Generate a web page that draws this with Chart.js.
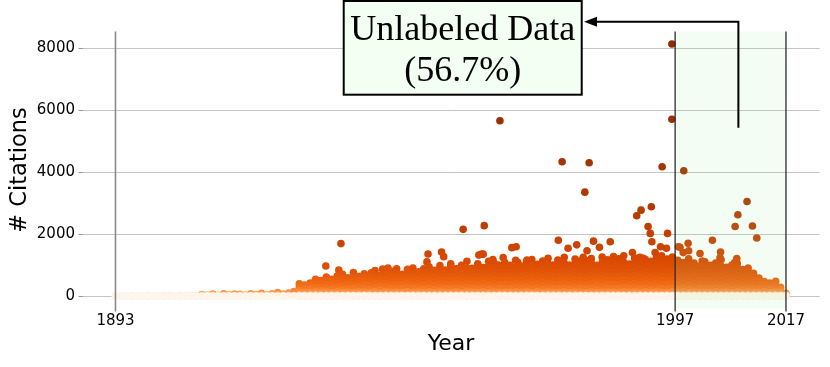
<!DOCTYPE html>
<html>
<head>
<meta charset="utf-8">
<script src="https://cdn.jsdelivr.net/npm/chart.js@4"></script>
<style>
  html, body { margin: 0; padding: 0; background: #fff; }
</style>
</head>
<body>
<canvas id="cites" width="830" height="367"></canvas>
<script>
// each row: [year, citations of the papers of that year ...]
const pre1927 = [
  [1893,0,1],[1894,0,2],[1895,0,1],[1896,0,3],[1897,0,1],[1898,0,2],[1899,0,4],[1900,0,1],
  [1901,0,2],[1902,0,3],[1903,0,5],[1904,0,2],[1905,0,6],[1906,0,3],[1907,0,8],[1908,0,4],
  [1909,0,10,45],[1910,0,5,30],[1911,0,12,60],[1912,0,6,25],[1913,0,15,70],[1914,0,4,40],
  [1915,0,10,65],[1916,0,8,55],[1917,0,14,35],[1918,0,6,70],[1919,0,10,45],[1920,0,18,90],
  [1921,0,8,40],[1922,0,12,75],[1923,0,20,110],[1924,0,9,60],[1925,0,16,95],[1926,0,25,140]
];
const y1927to1949 = [
  [1927,0,2,10,35,90,170,280,390],
  [1928,0,4,15,50,120,230,350],
  [1929,0,3,12,40,100,200,310,420],
  [1930,0,5,20,60,140,260,380,460,540],
  [1931,0,2,8,30,80,170,290,410,500],
  [1932,0,6,18,55,130,250,370,470,610],
  [1933,0,3,14,45,110,220,340,460,540],
  [1934,0,4,20,60,150,280,400,510,640],
  [1935,0,2,10,40,100,200,320,440,560,700],
  [1936,0,5,16,50,120,240,360,480,590],
  [1937,0,3,12,45,110,230,350,470,560,760],
  [1938,0,6,22,65,150,280,400,520,630],
  [1939,0,4,15,50,130,250,370,490,600,720],
  [1940,0,3,12,40,100,210,340,460,580,650],
  [1941,0,5,18,55,140,260,380,500,620,820],
  [1942,0,2,10,35,90,190,310,430,550,680],
  [1943,0,6,20,60,150,280,400,520,640,700],
  [1944,0,4,14,48,120,240,360,480,600,660,800],
  [1945,0,3,16,52,130,250,370,490,610,720,880],
  [1946,0,5,12,42,110,230,350,470,590,700],
  [1947,0,2,18,58,140,270,390,510,630,760,860],
  [1948,0,4,14,46,120,240,360,480,600,720,900],
  [1949,0,6,20,60,150,280,400,520,640,780]
];
const y1950s = [
  [1950,0,3,12,40,110,220,350,480,610,740,880],
  [1951,0,5,18,55,140,260,390,520,650,790,940],
  [1952,0,2,10,38,100,210,340,470,600,730,830],
  [1953,0,6,20,62,150,280,410,540,670,800,980],
  [1954,0,4,15,48,120,240,370,500,630,760,840],
  [1955,0,3,14,45,115,230,360,490,620,750,870,1040],
  [1956,0,5,18,55,140,260,390,520,650,780,880],
  [1957,0,2,12,40,105,220,350,480,610,740,860,990],
  [1958,0,6,20,60,150,280,410,540,670,800,900,1120],
  [1959,0,4,15,50,125,245,375,505,635,765,890]
];
const y1960s = [
  [1960,0,3,12,42,110,225,355,485,615,745,880,1040],
  [1961,0,5,18,56,140,265,395,525,655,785,920],
  [1962,0,2,10,38,100,215,345,475,605,735,860,960,1120],
  [1963,0,6,22,64,155,285,415,545,675,805,930,1060],
  [1964,0,4,14,46,120,240,370,500,630,760,890,980],
  [1965,0,3,16,52,130,250,380,510,640,770,900,1080],
  [1966,0,5,12,42,110,230,360,490,620,750,880,990],
  [1967,0,2,18,58,145,270,400,530,660,790,920,1150],
  [1968,0,4,14,48,120,240,370,500,630,760,890,970],
  [1969,0,6,20,60,150,280,410,540,670,800,930,1100]
];
const y1970s = [
  [1970,0,3,12,40,105,220,350,480,610,740,870,990,1180],
  [1971,0,5,18,55,140,260,390,520,650,780,910,1020],
  [1972,0,2,10,38,100,210,340,470,600,730,860,980,1130],
  [1973,0,6,20,62,150,280,410,540,670,800,930,1040,1220],
  [1974,0,4,15,48,120,240,370,500,630,760,890,1000],
  [1975,0,3,14,45,115,230,360,490,620,750,880,990,1100],
  [1976,0,5,18,55,140,260,390,520,650,780,910,1060,1250],
  [1977,0,2,12,40,105,220,350,480,610,740,870,1000],
  [1978,0,6,20,60,150,280,410,540,670,800,930,1040,1190],
  [1979,0,4,15,50,125,245,375,505,635,765,895,1010,1130]
];
const y1980s = [
  [1980,0,3,12,42,110,225,355,485,615,745,875,1000,1140],
  [1981,0,5,18,56,140,265,395,525,655,785,915,1060,1210],
  [1982,0,2,10,38,100,215,345,475,605,735,865,990],
  [1983,0,6,22,64,155,285,415,545,675,805,935,1080,1260],
  [1984,0,4,14,46,120,240,370,500,630,760,890,1020,1170],
  [1985,0,3,16,52,130,250,380,510,640,770,900,1050],
  [1986,0,5,12,42,110,230,360,490,620,750,880,1010,1200],
  [1987,0,2,18,58,145,270,400,530,660,790,920,1090,1300],
  [1988,0,4,14,48,120,240,370,500,630,760,890,1030],
  [1989,0,6,20,60,150,280,410,540,670,800,930,1070,1230]
];
const y1990to1996 = [
  [1990,0,3,12,40,105,220,350,480,610,740,870,1000,1100,1250],
  [1991,0,5,18,55,140,260,390,520,650,780,910,1050,1180],
  [1992,0,2,10,38,100,210,340,470,600,730,860,990,1120],
  [1993,0,6,20,62,150,280,410,540,670,800,930,1060,1210],
  [1994,0,4,15,48,120,240,370,500,630,760,890,1020,1150,1300],
  [1995,0,3,14,45,115,230,360,490,620,750,880,1010,1190],
  [1996,0,5,18,55,140,260,390,520,650,780,910,1040,1110,1260]
];
const y1997on = [
  [1997,0,3,12,42,110,225,355,485,615,745,875,1000,1150],
  [1998,0,5,18,56,140,265,395,525,655,785,915,1080],
  [1999,0,2,10,38,100,215,345,475,605,735,865,980,1200],
  [2000,0,6,22,64,155,285,415,545,675,805,935,1060],
  [2001,0,4,14,46,120,240,370,500,630,760,890,960],
  [2002,0,3,16,52,130,250,380,510,640,770,900,1100],
  [2003,0,5,12,42,110,230,360,490,620,750,880,990],
  [2004,0,2,18,58,145,270,400,530,660,790,920,1060],
  [2005,0,4,14,48,120,240,370,500,630,760,890,970,1170],
  [2006,0,6,20,60,150,280,410,540,670,800,930],
  [2007,0,3,12,40,105,220,350,480,610,740,870,1000],
  [2008,0,5,18,55,140,260,390,520,650,780,900,1050],
  [2009,0,2,10,38,100,210,340,470,600,730,850],
  [2010,0,6,20,62,150,280,410,540,670,790,900],
  [2011,0,4,15,48,120,240,370,500,620,730],
  [2012,0,3,14,45,115,230,350,470,580],
  [2013,0,5,18,55,140,260,370,470],
  [2014,0,2,12,40,105,210,320,420],
  [2015,0,6,20,60,150,260,350,410],
  [2016,0,4,15,50,120,200,280],
  [2017,0,3,12,40,90]
];
// papers standing out above the main mass: [year, citations]
const standouts = [
  [1930.8,460],[1931.9,968],[1934.3,840],[1934.7,1690],[1940.3,750],[1942.4,870],[1943.4,900],
  [1950.6,1100],[1950.8,1355],[1953.3,1420],[1953.7,1270],[1955.0,970],[1957.3,2150],
  [1960.0,1000],[1960.2,1320],[1960.7,1355],[1961.0,1350],[1961.2,2270],[1962.8,1180],
  [1963.8,1000],[1964.1,5655],[1964.7,1240],[1966.3,1560],[1967.1,1590],[1967.4,1090],
  [1969.1,1160],[1970.0,910],[1974.8,1160],[1974.9,1800],[1975.6,4330],[1976.7,1540],
  [1978.3,1650],[1979.5,1250],[1979.8,3350],[1980.2,1460],[1980.6,4300],[1981.4,1770],
  [1982.5,1570],[1984.5,1750],[1985.1,1270],[1988.6,1400],[1989.4,2590],[1990.2,2770],
  [1990.6,1220],[1991.5,2240],[1991.9,2020],[1992.1,2880],[1992.2,1750],[1992.8,1400],
  [1993.5,1270],[1993.8,1590],[1994.1,4170],[1994.9,1540],[1995.1,2020],[1995.9,5700],
  [1995.9,8130],[1996.0,1110],[1997.1,1590],[1997.4,1570],[1998.0,1400],[1998.1,4040],
  [1998.9,1700],[1999.0,1460],[2001.1,1370],[2001.5,1130],[2003.4,1800],[2004.8,1230],
  [2004.9,1420],[2007.5,1080],[2007.6,2240],[2007.9,1210],[2008.1,2620],[2009.8,3050],
  [2010.8,2260],[2011.6,1870],[2015.1,475]
];

const xTickPos = [1893, 1996.5, 2017];
const xTickLabels = ['1893', '1997', '2017'];
const yTicks = [0, 2000, 4000, 6000, 8000];
const splitYear = 1996.5;
const lastYear = 2017;
const annoLines = ['Unlabeled Data', '(56.7%)'];

let points = [];
[pre1927, y1927to1949, y1950s, y1960s, y1970s, y1980s, y1990to1996, y1997on].forEach(rows => {
  rows.forEach(r => {
    for (let i = 1; i < r.length; i++) points.push({x: r[0], y: r[i]});
  });
});
standouts.forEach(p => points.push({x: p[0], y: p[1]}));
// big ones first, small ones painted over them
points.sort((a, b) => b.y - a.y);

// matplotlib "Oranges", log scaled
const oranges = [[255,245,235],[254,230,206],[253,208,162],[253,174,107],[253,141,60],
                 [241,105,19],[217,72,1],[166,54,3],[127,39,4]];
function citeColor(c) {
  let t = Math.min(1, Math.log10(c + 1) / 4.1) * 8;
  let i = Math.min(7, Math.floor(t));
  let f = t - i;
  let a = oranges[i], b = oranges[i + 1];
  return 'rgb(' + a.map((v, k) => Math.round(v + (b[k] - v) * f)).join(',') + ')';
}

const extras = {
  id: 'extras',
  afterDatasetsDraw(chart) {
    const {ctx, chartArea, scales: {x}} = chart;
    const l = x.getPixelForValue(splitYear), r = x.getPixelForValue(lastYear);
    ctx.save();
    ctx.fillStyle = 'rgba(144,238,144,0.1)';
    ctx.fillRect(l, chartArea.top, r - l, chartArea.bottom - chartArea.top);
    ctx.restore();
  },
  afterDraw(chart) {
    const {ctx, chartArea, scales: {x, y}} = chart;
    ctx.save();
    // vertical markers
    const vline = (v, color, w) => {
      const px = x.getPixelForValue(v);
      ctx.strokeStyle = color;
      ctx.lineWidth = w;
      ctx.beginPath();
      ctx.moveTo(px, chartArea.top);
      ctx.lineTo(px, chartArea.bottom + 3);
      ctx.stroke();
    };
    vline(1893, '#8a8a8a', 1.6);
    vline(splitYear, '#2b2b2b', 1.3);
    vline(lastYear, '#2b2b2b', 1.3);

    // arrow
    const tailX = x.getPixelForValue(2008.2), tailY = y.getPixelForValue(5430);
    const bendY = y.getPixelForValue(8848);
    const tipX = x.getPixelForValue(1979.65);
    ctx.strokeStyle = '#000';
    ctx.lineWidth = 2;
    ctx.beginPath();
    ctx.moveTo(tailX, tailY);
    ctx.lineTo(tailX, bendY);
    ctx.lineTo(tipX + 10, bendY);
    ctx.stroke();
    ctx.fillStyle = '#000';
    ctx.beginPath();
    ctx.moveTo(tipX, bendY);
    ctx.lineTo(tipX + 13, bendY - 5);
    ctx.lineTo(tipX + 13, bendY + 5);
    ctx.closePath();
    ctx.fill();

    // label box
    const right = tipX - 2.3, left = right - 238, top = 1, bottom = 94.7;
    ctx.fillStyle = '#f2fff2';
    ctx.fillRect(left, top, right - left, bottom - top);
    ctx.strokeStyle = '#000';
    ctx.lineWidth = 2;
    ctx.strokeRect(left, top, right - left, bottom - top);
    ctx.fillStyle = '#000';
    ctx.font = '36px "Liberation Serif"';
    ctx.textAlign = 'center';
    ctx.textBaseline = 'alphabetic';
    ctx.fillText(annoLines[0], (left + right) / 2, 40);
    ctx.fillText(annoLines[1], (left + right) / 2, 80.5);
    ctx.restore();
  }
};

new Chart(document.getElementById('cites'), {
  type: 'scatter',
  data: {
    datasets: [{
      data: points,
      pointRadius: 3.8,
      pointHoverRadius: 3.8,
      borderWidth: 0,
      backgroundColor: ctx => citeColor(ctx.raw ? ctx.raw.y : 0)
    }]
  },
  options: {
    responsive: false,
    animation: false,
    devicePixelRatio: 1,
    layout: { padding: { top: 31.4, right: 10.5, left: 0, bottom: 0 } },
    plugins: { legend: { display: false }, tooltip: { enabled: false } },
    scales: {
      x: {
        type: 'linear',
        min: 1886.9,
        max: 2023.2,
        grid: { display: false, drawTicks: false },
        border: { display: false },
        afterBuildTicks: s => { s.ticks = xTickPos.map(v => ({ value: v })); },
        afterFit: s => { s.height = 58.4; },
        ticks: {
          padding: 4,
          autoSkip: false,
          maxRotation: 0,
          color: '#000',
          font: { family: 'DejaVu Sans', size: 15 },
          callback: (v, i) => xTickLabels[i]
        },
        title: {
          display: true,
          text: 'Year',
          color: '#000',
          font: { family: 'DejaVu Sans', size: 22 },
          padding: { top: 0, bottom: 9.7 }
        }
      },
      y: {
        min: -406,
        max: 8536,
        z: 1,
        grid: { color: '#c4c4c4', tickColor: '#9a9a9a', tickLength: 4, lineWidth: 1 },
        border: { display: false },
        afterBuildTicks: s => { s.ticks = yTicks.map(v => ({ value: v })); },
        afterFit: s => { s.width = 82.5; },
        ticks: {
          padding: 3.5,
          color: '#000',
          font: { family: 'DejaVu Sans', size: 15 },
          callback: v => String(v)
        },
        title: {
          display: true,
          text: '# Citations',
          color: '#000',
          font: { family: 'DejaVu Sans', size: 22.5 },
          padding: { top: 6.8, bottom: 0 }
        }
      }
    }
  },
  plugins: [extras]
});
</script>
</body>
</html>
